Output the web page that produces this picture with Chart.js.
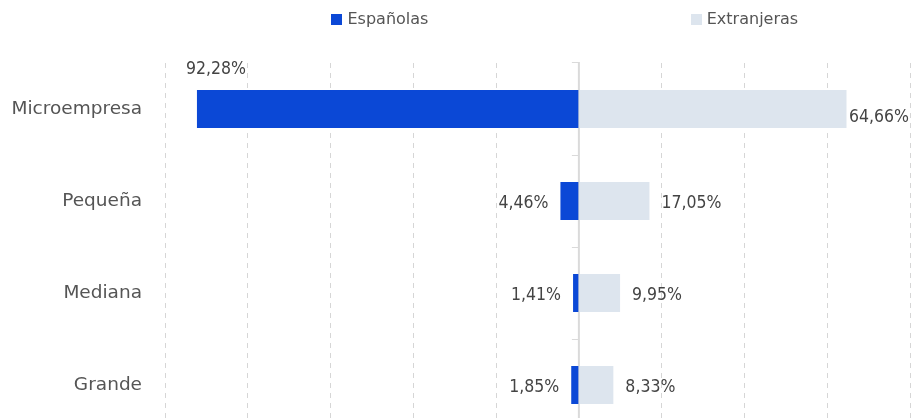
<!DOCTYPE html>
<html>
<head>
<meta charset="utf-8">
<script src="https://cdn.jsdelivr.net/npm/chart.js@4"></script>
<style>
  html, body { margin: 0; padding: 0; background: #fff; overflow: hidden; }
  canvas { display: block; }
</style>
</head>
<body>
<canvas id="tamanoChart" width="923" height="431"></canvas>
<script>
// ================================================================
// Empresas por tamaño: españolas vs extranjeras
// ================================================================
const categorias = ['Microempresa', 'Pequeña', 'Mediana', 'Grande'];
const espanolas = [92.28, 4.46, 1.41, 1.85];     // se dibujan a la izquierda (negativo)
const extranjeras = [64.66, 17.05, 9.95, 8.33];
const serieNombres = ['Españolas', 'Extranjeras'];
const serieColores = ['#0b48d6', '#dde5ee'];

const textColor = '#555555';
const labelFont = '"DejaVu Sans Condensed", "DejaVu Sans", sans-serif';

function fmt(v) {
  return Math.abs(v).toFixed(2).replace('.', ',') + '%';
}

// legend centred over each half, zero line, small ticks, value labels
const extrasPlugin = {
  id: 'extras',
  beforeDatasetsDraw(chart) {
    const ctx = chart.ctx;
    const area = chart.chartArea;
    const x = chart.scales.x;
    const y = chart.scales.y;
    const x0 = x.getPixelForValue(0);
    ctx.save();
    ctx.strokeStyle = '#dadada';
    ctx.lineWidth = 2;
    ctx.beginPath();
    ctx.moveTo(x0, area.top - 1);
    ctx.lineTo(x0, area.bottom);
    ctx.stroke();
    // category boundary ticks
    ctx.lineWidth = 1;
    const n = categorias.length;
    const marks = [area.top - 0.5];
    for (let i = 0; i < n - 1; i++) {
      marks.push(Math.round((y.getPixelForTick(i) + y.getPixelForTick(i + 1)) / 2) + 0.5);
    }
    marks.forEach(function(m) {
      ctx.beginPath();
      ctx.moveTo(x0 - 7, m);
      ctx.lineTo(x0, m);
      ctx.stroke();
    });
    ctx.restore();
  },
  afterDraw(chart) {
    const ctx = chart.ctx;
    const area = chart.chartArea;
    const x = chart.scales.x;
    const x0 = x.getPixelForValue(0);
    ctx.save();

    // legend
    ctx.font = '16px "DejaVu Sans", sans-serif';
    ctx.textBaseline = 'middle';
    const centres = [(area.left + x0) / 2 + 8, (x0 + area.right) / 2];
    serieNombres.forEach(function(name, i) {
      const tw = ctx.measureText(name).width;
      const w = 11 + 5 + tw;
      const left = centres[i] - w / 2;
      ctx.fillStyle = serieColores[i];
      ctx.fillRect(Math.round(left), 14, 11, 11);
      ctx.fillStyle = textColor;
      ctx.textAlign = 'left';
      ctx.fillText(name, left + 16, 20);
    });

    // value labels
    ctx.font = '17.5px ' + labelFont;
    ctx.fillStyle = '#444444';
    ctx.textBaseline = 'middle';
    chart.data.datasets.forEach(function(ds, di) {
      const meta = chart.getDatasetMeta(di);
      meta.data.forEach(function(bar, i) {
        const txt = fmt(ds.data[i]);
        const tw = ctx.measureText(txt).width;
        const half = bar.height / 2;
        let tx, ty = bar.y + 2;
        if (di === 0) {
          tx = bar.x - 12 - tw;
          if (tx < area.left) {
            tx = bar.x - 11;
            ty = bar.y - half - 21;
          }
        } else {
          tx = bar.x + 12;
          if (tx + tw > area.right) {
            tx = area.right - tw - 1;
            ty = bar.y + 8;
          }
        }
        ctx.textAlign = 'left';
        ctx.fillText(txt, tx, ty);
      });
    });
    ctx.restore();
  }
};

new Chart(document.getElementById('tamanoChart'), {
  type: 'bar',
  data: {
    labels: categorias,
    datasets: [{
      label: serieNombres[0],
      backgroundColor: serieColores[0],
      data: espanolas.map(function(v) { return -v; }),
      barPercentage: 0.413,
      categoryPercentage: 1
    }, {
      label: serieNombres[1],
      backgroundColor: serieColores[1],
      data: extranjeras,
      barPercentage: 0.413,
      categoryPercentage: 1
    }]
  },
  options: {
    indexAxis: 'y',
    responsive: false,
    animation: false,
    layout: { padding: { top: 63, right: 13, left: 0, bottom: 0 } },
    plugins: {
      legend: { display: false },
      tooltip: { enabled: false }
    },
    scales: {
      x: {
        stacked: true,
        min: -100,
        max: 80,
        ticks: { display: false, stepSize: 20 },
        grid: {
          drawTicks: false,
          color: function(c) { return c.tick && c.tick.value === 0 ? 'rgba(0,0,0,0)' : '#d6d6d6'; },
          lineWidth: 1
        },
        border: { display: false, dash: [5, 5] },
        afterFit: function(scale) { scale.height = 0; }
      },
      y: {
        stacked: true,
        grid: { display: false, drawTicks: false },
        border: { display: false },
        ticks: {
          padding: 23,
          color: textColor,
          font: { family: '"DejaVu Sans", sans-serif', size: 18.5 }
        },
        afterFit: function(scale) {
          scale.width = 165;
          scale.paddingTop = 0;
          scale.paddingBottom = 0;
        }
      }
    }
  },
  plugins: [extrasPlugin]
});
</script>
</body>
</html>
